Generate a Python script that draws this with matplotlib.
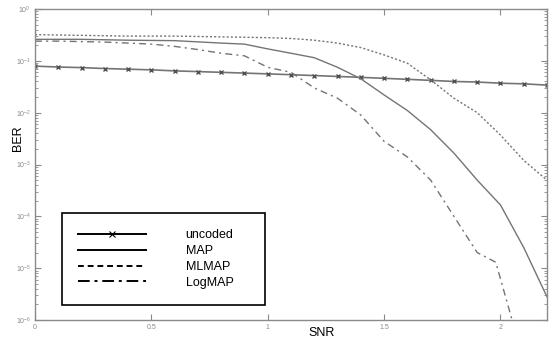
import matplotlib
matplotlib.use("Agg")
import matplotlib.pyplot as plt
from matplotlib.lines import Line2D
import numpy as np

plt.rcParams['font.family'] = ['Liberation Sans', 'DejaVu Sans']

snr_uncoded = [0.0, 0.1, 0.2, 0.3, 0.4, 0.5, 0.6, 0.7, 0.8, 0.9, 1.0, 1.1,
               1.2, 1.3, 1.4, 1.5, 1.6, 1.7, 1.8, 1.9, 2.0, 2.1, 2.2]
ber_uncoded = [0.079, 0.076, 0.074, 0.071, 0.069, 0.067, 0.064, 0.062, 0.060,
               0.058, 0.056, 0.054, 0.052, 0.050, 0.048, 0.046, 0.044, 0.042,
               0.040, 0.039, 0.037, 0.036, 0.034]

snr_map = [0.0, 0.2, 0.4, 0.6, 0.8, 0.9, 1.0, 1.1, 1.2, 1.3, 1.4, 1.5, 1.6,
           1.7, 1.8, 1.9, 2.0, 2.1, 2.2]
ber_map = [0.26, 0.26, 0.25, 0.245, 0.22, 0.21, 0.17, 0.14, 0.115, 0.075,
           0.045, 0.022, 0.011, 0.0047, 0.00166, 5.0e-4, 1.66e-4, 2.5e-5, 2.8e-6]

snr_mlmap = [0.0, 0.2, 0.4, 0.6, 0.8, 1.0, 1.1, 1.2, 1.3, 1.4, 1.5, 1.6, 1.7,
             1.8, 1.9, 2.0, 2.1, 2.2]
ber_mlmap = [0.32, 0.31, 0.30, 0.30, 0.29, 0.28, 0.27, 0.25, 0.22, 0.18, 0.13,
             0.09, 0.043, 0.019, 0.010, 0.0037, 0.0012, 5.0e-4]

snr_logmap = [0.0, 0.1, 0.2, 0.3, 0.4, 0.5, 0.6, 0.7, 0.8, 0.9, 1.0, 1.1, 1.2,
              1.3, 1.4, 1.5, 1.6, 1.7, 1.8, 1.9, 1.98, 2.05]
ber_logmap = [0.24, 0.24, 0.235, 0.23, 0.22, 0.21, 0.19, 0.165, 0.14, 0.125,
              0.075, 0.06, 0.03, 0.019, 0.009, 0.0028, 0.0014, 5.0e-4, 1.0e-4,
              2.0e-5, 1.3e-5, 1.0e-6]

legend_labels = ['uncoded', 'MAP', 'MLMAP', 'LogMAP']
x_ticks = [0, 0.5, 1, 1.5, 2]
x_ticklabels = ['0', '0.5', '1', '1.5', '2']

gray = '#747474'
axgray = '#8a8a8a'

fig = plt.figure(figsize=(5.52, 3.46), dpi=100)
ax = fig.add_axes([35/552, 26/346, 512/552, 311/346])

ax.plot(snr_uncoded, ber_uncoded, color=gray, lw=1.2, marker='x',
        markersize=2.6, markeredgewidth=1.0, markeredgecolor='#505050')
ax.plot(snr_map, ber_map, color=gray, lw=1.0)
ax.plot(snr_mlmap, ber_mlmap, color=gray, lw=1.0, linestyle=(0, (1.5, 1.5)))
ax.plot(snr_logmap, ber_logmap, color=gray, lw=1.0, linestyle=(0, (5, 3, 1.5, 3)))

ax.set_yscale('log')
ax.set_xlim(0, 2.2)
ax.set_ylim(1e-6, 1)
ax.set_xticks(x_ticks)
ax.set_xticklabels(x_ticklabels)
ax.set_yticks([1e-6, 1e-5, 1e-4, 1e-3, 1e-2, 1e-1, 1])
ax.yaxis.set_minor_locator(matplotlib.ticker.LogLocator(base=10, subs=np.arange(2, 10), numticks=20))
ax.yaxis.set_minor_formatter(matplotlib.ticker.NullFormatter())

ax.tick_params(which='both', direction='in', top=True, right=True,
               colors=axgray, labelcolor=axgray, labelsize=5, pad=3)
ax.tick_params(which='major', length=4, width=0.8)
ax.tick_params(which='minor', length=2, width=0.6)
for s in ax.spines.values():
    s.set_color(axgray)
    s.set_linewidth(1.0)

fig.text(322/552, 1 - 333/346, 'SNR', ha='center', va='center', fontsize=9)
fig.text(18/552, 1 - 138/346, 'BER', ha='center', va='center', fontsize=9,
         rotation=90)

handles = [
    Line2D([], [], color='black', lw=1.4, marker='x', markersize=4,
           markeredgewidth=0.8, markevery=[0]),
    Line2D([], [], color='black', lw=1.4),
    Line2D([], [], color='black', lw=1.4, linestyle=(0, (3, 2))),
    Line2D([], [], color='black', lw=1.4, linestyle=(0, (6, 2.5, 1.5, 2.5))),
]
leg = ax.legend(handles, legend_labels, loc='lower left',
                bbox_to_anchor=(27/512, 15/311, 203/512, 92/311), mode='expand',
                borderaxespad=0, fancybox=False, framealpha=1, edgecolor='black',
                fontsize=9, handlelength=5.4, handletextpad=3.2,
                labelspacing=0.3, borderpad=1.3)
leg.get_frame().set_linewidth(1.2)

fig.savefig('out.png', dpi=100)
